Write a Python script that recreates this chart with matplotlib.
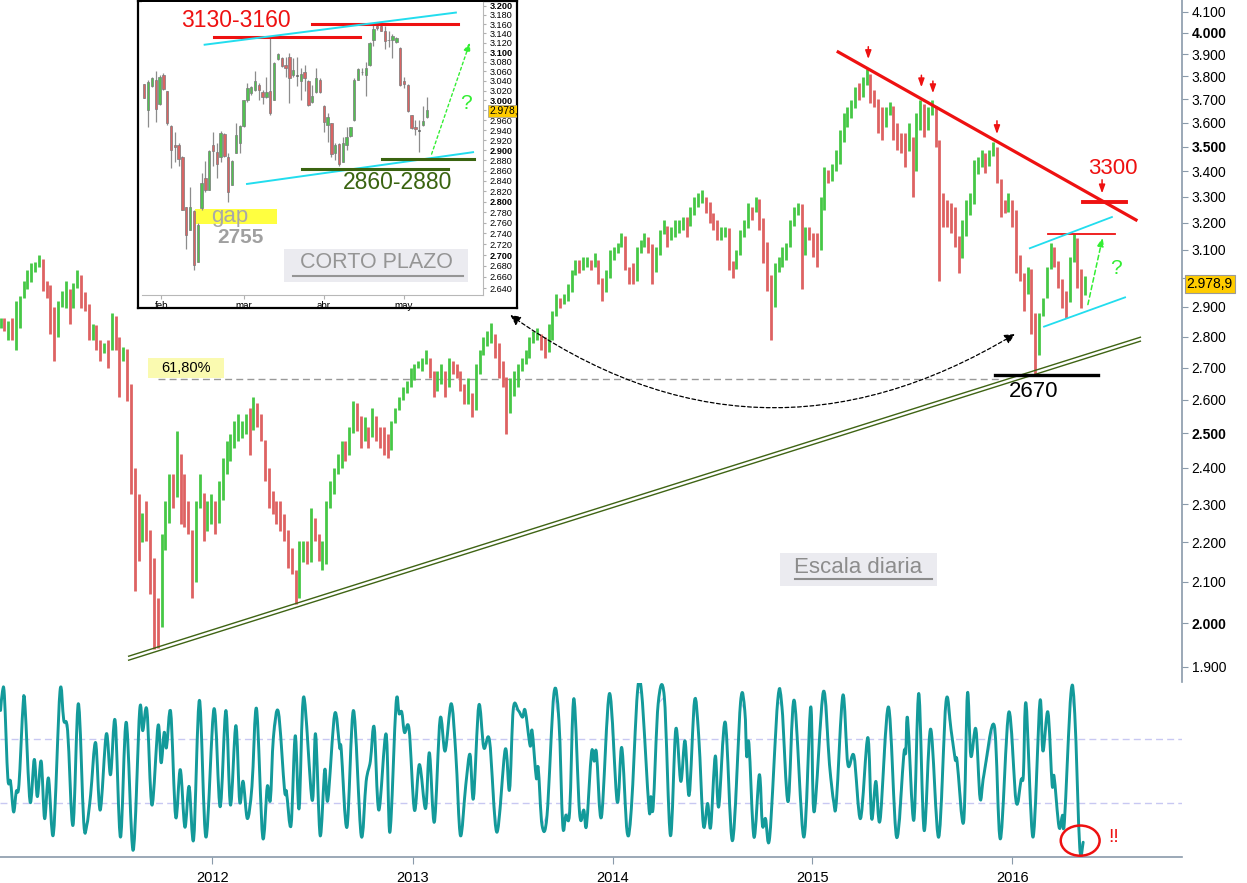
import numpy as np
import pandas as pd
import matplotlib
matplotlib.use('Agg')
import matplotlib.pyplot as plt
import matplotlib.dates as mdates
import matplotlib.ticker as mticker
from matplotlib.patches import Rectangle, Ellipse, FancyArrowPatch, PathPatch
from matplotlib.path import Path
from matplotlib.transforms import blended_transform_factory

plt.rcParams['font.family'] = ['Liberation Sans', 'DejaVu Sans']

# ── data: weekly bars (Friday) of the index, Dec 2010 → May 2016 ──
week_start = '2010-12-10'
weekly_close = [
    2855, 2830, 2830, 2800, 2830, 2930, 2960, 2985, 3020, 3040,
    3068, 2990, 2975, 2900, 2800, 2900, 2945, 2960, 2930, 2965,
    3010, 2950, 2910, 2830, 2840, 2790, 2770, 2780, 2755, 2870,
    2800, 2720, 2760, 2650, 2400, 2250, 2200, 2240, 2230, 2110,
    2060, 1990, 2180, 2250, 2350, 2320, 2440, 2300, 2290, 2230,
    2100, 2300, 2330, 2240, 2260, 2280, 2250, 2310, 2390, 2420,
    2470, 2480, 2500, 2510, 2530, 2510, 2590, 2540, 2480, 2400,
    2330, 2300, 2290, 2270, 2230, 2160, 2130, 2060, 2150, 2170,
    2150, 2250, 2220, 2180, 2180, 2290, 2350, 2400, 2440, 2460,
    2450, 2500, 2590, 2550, 2490, 2510, 2490, 2550, 2510, 2500,
    2470, 2450, 2530, 2570, 2600, 2620, 2640, 2660, 2700, 2715,
    2715, 2730, 2690, 2630, 2650, 2680, 2640, 2710, 2705, 2680,
    2640, 2600, 2620, 2570, 2680, 2740, 2770, 2800, 2810, 2780,
    2720, 2670, 2560, 2610, 2640, 2690, 2710, 2730, 2780, 2800,
    2810, 2780, 2750, 2790, 2870, 2930, 2910, 2925, 2950, 3010,
    3040, 3035, 3045, 3050, 3040, 3065, 3000, 2950, 3000, 3070,
    3090, 3110, 3150, 3040, 3010, 2990, 3090, 3110, 3140, 3120,
    3020, 3080, 3160, 3190, 3150, 3170, 3185, 3200, 3200, 3190,
    3230, 3260, 3290, 3300, 3280, 3230, 3210, 3170, 3170, 3180,
    3060, 3030, 3080, 3150, 3180, 3260, 3240, 3290, 3220, 3130,
    3010, 2900, 3020, 3060, 3090, 3110, 3190, 3230, 3270, 3080,
    3170, 3160, 3130, 3100, 3250, 3370, 3360, 3400, 3430, 3520,
    3590, 3620, 3660, 3720, 3710, 3760, 3810, 3710, 3700, 3620,
    3600, 3630, 3670, 3580, 3520, 3500, 3480, 3540, 3400, 3570,
    3680, 3600, 3630, 3670, 3510, 3280, 3230, 3200, 3180, 3150,
    3070, 3150, 3230, 3270, 3390, 3420, 3440, 3420, 3460, 3500,
    3370, 3250, 3240, 3260, 3250, 3080, 2990, 2950, 3030, 2880,
    2740, 2870, 2930, 3030, 3075, 3060, 2995, 2955, 2915, 3055,
    3145, 3030, 2940, 2979,
]
weekly_high = [
    2862, 2862, 2853, 2862, 2921, 2938, 2990, 3026, 3051, 3058,
    3080, 3026, 2990, 2897, 2810, 2921, 2955, 2990, 2955, 2983,
    3026, 2983, 2931, 2843, 2843, 2810, 2788, 2778, 2788, 2880,
    2830, 2755, 2765, 2690, 2443, 2248, 2327, 2275, 2309, 2185,
    2158, 2036, 2221, 2309, 2384, 2384, 2507, 2364, 2384, 2309,
    2133, 2309, 2384, 2290, 2309, 2327, 2309, 2364, 2429, 2478,
    2498, 2537, 2557, 2537, 2557, 2576, 2607, 2588, 2557, 2478,
    2384, 2336, 2309, 2309, 2274, 2221, 2185, 2118, 2203, 2203,
    2203, 2290, 2264, 2221, 2203, 2309, 2364, 2384, 2438, 2478,
    2478, 2517, 2597, 2576, 2517, 2547, 2517, 2576, 2537, 2517,
    2517, 2498, 2537, 2576, 2607, 2638, 2659, 2700, 2711, 2722,
    2732, 2755, 2711, 2668, 2690, 2711, 2690, 2732, 2722, 2711,
    2690, 2649, 2668, 2607, 2711, 2755, 2799, 2820, 2846, 2810,
    2755, 2711, 2638, 2668, 2690, 2711, 2732, 2755, 2799, 2820,
    2830, 2810, 2799, 2843, 2887, 2945, 2931, 2945, 2980, 3026,
    3062, 3062, 3073, 3073, 3062, 3087, 3026, 2990, 3026, 3098,
    3109, 3124, 3161, 3062, 3037, 3051, 3109, 3135, 3161, 3146,
    3087, 3109, 3173, 3211, 3173, 3184, 3211, 3211, 3222, 3222,
    3260, 3299, 3314, 3326, 3299, 3260, 3237, 3199, 3184, 3184,
    3098, 3051, 3098, 3173, 3211, 3276, 3260, 3299, 3249, 3146,
    3062, 2990, 3051, 3073, 3109, 3124, 3211, 3260, 3276, 3146,
    3184, 3184, 3161, 3161, 3299, 3415, 3404, 3430, 3486, 3568,
    3640, 3666, 3696, 3752, 3770, 3796, 3835, 3770, 3740, 3666,
    3666, 3666, 3687, 3623, 3597, 3555, 3555, 3597, 3497, 3640,
    3696, 3623, 3666, 3696, 3597, 3526, 3314, 3287, 3276, 3260,
    3109, 3211, 3287, 3314, 3445, 3458, 3486, 3474, 3486, 3518,
    3458, 3299, 3287, 3314, 3287, 3135, 3073, 3016, 3037, 2921,
    2745, 2877, 2931, 3037, 3124, 3109, 3037, 2955, 2945, 3073,
    3157, 3037, 2955, 3007,
]
weekly_low = [
    2830, 2820, 2788, 2788, 2755, 2887, 2938, 2975, 3016, 3026,
    3051, 2955, 2931, 2810, 2720, 2820, 2911, 2897, 2843, 2897,
    2990, 2897, 2887, 2788, 2788, 2755, 2722, 2745, 2700, 2830,
    2755, 2607, 2732, 2597, 2327, 2076, 2151, 2203, 2203, 2069,
    1940, 1943, 2118, 2203, 2327, 2290, 2384, 2248, 2238, 2221,
    2060, 2248, 2290, 2203, 2229, 2248, 2221, 2274, 2364, 2384,
    2429, 2458, 2478, 2487, 2498, 2438, 2557, 2517, 2478, 2364,
    2290, 2274, 2248, 2229, 2203, 2133, 2118, 2045, 2118, 2151,
    2143, 2221, 2203, 2151, 2130, 2143, 2290, 2327, 2384, 2401,
    2420, 2438, 2547, 2507, 2458, 2478, 2458, 2517, 2478, 2458,
    2438, 2429, 2498, 2547, 2576, 2607, 2628, 2659, 2690, 2700,
    2690, 2711, 2668, 2607, 2628, 2668, 2607, 2690, 2680, 2668,
    2628, 2588, 2588, 2547, 2668, 2711, 2755, 2778, 2778, 2732,
    2668, 2638, 2498, 2588, 2628, 2668, 2690, 2711, 2755, 2778,
    2788, 2755, 2732, 2778, 2843, 2911, 2897, 2911, 2921, 2990,
    3026, 3016, 3026, 3037, 3026, 3051, 2980, 2921, 2965, 3037,
    3062, 3087, 3109, 3026, 2980, 2980, 3062, 3087, 3109, 3087,
    2980, 3051, 3124, 3161, 3109, 3135, 3146, 3161, 3173, 3146,
    3222, 3249, 3276, 3276, 3237, 3199, 3173, 3135, 3135, 3146,
    3026, 3001, 3051, 3124, 3146, 3237, 3211, 3249, 3173, 3051,
    2955, 2788, 3001, 3026, 3037, 3062, 3146, 3199, 3237, 2960,
    3087, 3135, 3073, 3037, 3211, 3338, 3353, 3376, 3404, 3497,
    3555, 3581, 3623, 3683, 3696, 3740, 3796, 3683, 3666, 3555,
    3526, 3581, 3653, 3526, 3486, 3474, 3415, 3486, 3299, 3555,
    3653, 3539, 3568, 3640, 3497, 2990, 3184, 3184, 3161, 3109,
    3016, 3087, 3184, 3260, 3365, 3404, 3415, 3392, 3433, 3474,
    3353, 3222, 3237, 3249, 3184, 3016, 2990, 2887, 2945, 2810,
    2680, 2810, 2877, 2990, 3037, 3037, 2965, 2897, 2863, 3016,
    3109, 2965, 2897, 2960,
]
last_price = 2978.9

# short term daily candles (late Jan 2016 → May 2016)
cp_open = [3034, 2981, 3029, 3041, 2993, 3052, 3019, 2948, 2911, 2911,
           2887, 2789, 2746, 2783, 2688, 2787, 2845, 2823, 2911, 2896,
           2887, 2932, 2887, 2832, 2894, 2914, 2948, 3001, 3016, 3022,
           3032, 3017, 3007, 3020, 3001, 3085, 3087, 3073, 3091, 3053,
           3053, 3039, 3058, 3039, 2996, 3017, 3042, 2988, 2951, 2954,
           2895, 2912, 2877, 2911, 2929, 2961, 3042, 3058, 3053, 3074,
           3126, 3157, 3156, 3145, 3127, 3127, 3122, 3110, 3040, 3031,
           2970, 2947, 2941, 2951, 2966]
cp_close = [3004, 3037, 3047, 2982, 3048, 3024, 2954, 2900, 2907, 2882,
            2785, 2737, 2789, 2682, 2756, 2835, 2822, 2899, 2898, 2873,
            2935, 2888, 2819, 2878, 2931, 2948, 3000, 3025, 3027, 3039,
            3022, 3007, 3018, 2974, 3078, 3096, 3071, 3066, 3046, 3063,
            3051, 3055, 3046, 2990, 3008, 3046, 3018, 2957, 2966, 2893,
            2911, 2873, 2914, 2926, 2946, 3042, 3064, 3058, 3066, 3119,
            3149, 3152, 3146, 3123, 3125, 3135, 3130, 3032, 3034, 2978,
            2944, 2942, 2939, 2958, 2981]
cp_high = [3034, 3042, 3049, 3060, 3052, 3056, 3020, 2950, 2937, 2914,
           2888, 2790, 2829, 2784, 2759, 2855, 2878, 2901, 2937, 2914,
           2939, 2935, 2894, 2881, 2954, 2950, 3001, 3035, 3030, 3060,
           3035, 3022, 3049, 3130, 3080, 3099, 3091, 3091, 3098, 3087,
           3091, 3066, 3073, 3042, 3032, 3066, 3046, 2991, 2974, 2955,
           2914, 2914, 2927, 2947, 2947, 3046, 3066, 3066, 3080, 3122,
           3158, 3162, 3158, 3155, 3145, 3139, 3132, 3112, 3049, 3033,
           2971, 2961, 2961, 2988, 3007]
cp_low = [3004, 2947, 3027, 2957, 2991, 3022, 2951, 2864, 2877, 2868,
          2784, 2712, 2746, 2673, 2687, 2784, 2819, 2822, 2868, 2845,
          2877, 2887, 2800, 2832, 2894, 2894, 2947, 2997, 3012, 3019,
          3001, 2992, 3005, 2971, 3000, 3084, 3070, 3049, 2995, 3049,
          3029, 3001, 3019, 2988, 2995, 3015, 3015, 2937, 2917, 2887,
          2881, 2868, 2876, 2901, 2927, 2959, 3041, 3053, 3008, 3072,
          3113, 3148, 3145, 3106, 3112, 3087, 3119, 3030, 3025, 2976,
          2942, 2931, 2896, 2949, 2964]
cp_month_pos = [4.45, 26.0, 47.0, 67.9]
cp_month_lbl = ['feb', 'mar', 'abr', 'may']

# oscillator (turning points, position in weeks from week_start)
osc_wk = [0.0, 0.5, 1.0, 1.9, 2.6, 3.4, 4.1, 4.8, 5.9, 6.4,
          7.7, 8.8, 9.6, 10.6, 11.5, 12.5, 13.8, 15.5, 16.5, 17.5,
          18.9, 20.3, 21.7, 22.5, 23.5, 24.8, 26.0, 27.6, 28.7, 29.9,
          31.3, 32.8, 34.6, 36.3, 37.1, 38.2, 39.5, 41.1, 41.9, 42.7,
          43.3, 44.4, 45.7, 46.9, 48.1, 49.2, 50.4, 51.9, 53.6, 55.7,
          57.3, 58.8, 60.0, 61.4, 62.4, 63.3, 64.4, 65.6, 66.8, 68.4,
          69.6, 70.4, 71.2, 72.5, 74.1, 74.6, 75.8, 76.9, 77.9, 79.1,
          81.3, 82.2, 83.4, 84.6, 85.4, 87.2, 88.5, 88.9, 90.4, 92.1,
          94.1, 95.4, 96.5, 97.5, 98.7, 100.6, 101.6, 103.2, 104.0, 104.7,
          105.4, 106.6, 108.0, 109.3, 110.9, 111.9, 113.2, 114.7, 116.0, 117.6,
          118.8, 120.0, 121.4, 122.5, 123.4, 124.8, 126.1, 127.6, 129.5, 131.7,
          132.8, 133.8, 135.1, 136.2, 136.9, 138.2, 138.7, 139.8, 140.3, 141.3,
          142.6, 144.4, 145.7, 146.7, 147.5, 148.5, 149.6, 151.1, 152.2, 152.9,
          154.2, 154.9, 155.5, 156.8, 158.9, 160.9,
          162.1, 163.5, 164.6, 166.2, 167.3, 169.2, 169.7, 170.3, 171.6, 173.2,
          174.8, 176.2, 177.5, 178.6, 179.7, 181.1, 182.2, 183.4, 184.5, 185.3,
          186.5, 187.4, 189.1, 191.0, 193.1, 194.2, 194.7, 195.3, 196.6, 198.0,
          198.8, 199.6, 200.7, 202.8, 203.9, 205.5, 207.1, 209.6, 211.4, 212.3,
          214.7, 216.3, 217.4, 218.1, 219.8, 221.1, 222.7, 224.4, 226.3, 227.3,
          228.4, 229.5, 231.7, 233.8, 235.7, 236.2, 236.7, 238.3, 239.6, 241.0,
          242.7, 244.8, 246.7, 248.0, 249.1, 249.6, 251.3, 252.3, 253.2, 254.5,
          255.6, 256.6, 259.3, 260.9, 263.1, 265.0, 266.3, 266.9, 267.6, 269.4,
          271.2, 272.0, 273.3, 274.4, 274.9, 276.2, 277.1, 277.6, 279.3, 280.3,
          281.6, 282.5]
osc_val = [88, 100, 97.6, 45.5, 43.4, 24.2, 37, 41.2, 92.3, 90.2,
           30.6, 57.2, 33.8, 56.1, 20.0, 45.5, 10.4, 99.8, 81.7, 75.3,
           15.7, 92.3, 17.8, 15.7, 34.8, 67.8, 25.3, 73.2, 47.6, 81.7,
           8.3, 80.6, 0, 88.0, 75.3, 88.0, 28.5, 78.5, 55.1, 74.2,
           64.6, 87.0, 21.0, 50.8, 14.6, 40.2, 7.2, 94.4, 8.3, 89.1,
           27.4, 88.0, 28.5, 78.5, 30.6, 43.4, 20.0, 40.2, 89.1, 8.3,
           40.2, 31.6, 71.0, 87.0, 38.0, 37.0, 15.7, 72.1, 26.3, 96.6,
           31.6, 73.2, 9.3, 50.8, 31.6, 85.9, 64.6, 63.6, 14.6, 88.0,
           9.3, 43.4, 56.1, 77.4, 25.3, 73.2, 11.4, 92.3, 85.9, 87.0,
           74.2, 76.3, 25.3, 54.0, 26.3, 61.4, 17.8, 82.7, 62.5, 92.3,
           60.4, 9.3, 41.2, 60.4, 32.7, 91.2, 64.6, 68.9, 11.4, 63.6,
           38.0, 89.1, 88.0, 83.8, 88.0, 65.7, 75.3, 45.5, 51.9, 15.7,
           22.1, 98.7, 81.7, 15.7, 22.1, 24.2, 95.5, 23.1, 25.3, 15.7,
           61.4, 56.1, 61.4, 21.0, 98.7, 30.6,
           64.6, 11.4, 26.3, 99.8, 98.7, 26.3, 33.8, 27.4, 92.3, 96.6,
           9.3, 76.3, 43.4, 68.9, 34.8, 94.4, 71.0, 15.7, 29.5, 14.6,
           59.3, 27.4, 80.6, 6.1, 93.4, 88.0, 59.3, 66.8, 8.3, 47.6,
           15.7, 20.0, 8.3, 94.4, 90.2, 30.6, 94.4, 8.3, 90.2, 24.2,
           99.8, 54.0, 30.6, 30.6, 97.6, 54.0, 59.3, 20.0, 71.0, 20.0,
           43.4, 18.9, 90.2, 8.3, 60.4, 61.4, 82.7, 18.9, 98.7, 12.5,
           76.3, 8.3, 93.4, 76.3, 57.2, 56.1, 17.8, 98.7, 59.3, 76.3,
           32.7, 47.6, 78.5, 7.2, 87.0, 30.6, 44.4, 47.6, 92.3, 8.3,
           93.4, 62.5, 87.0, 41.2, 46.6, 14.6, 22.1, 17.8, 98.7, 85.9,
           1.9, 5.1]

years = ['2012', '2013', '2014', '2015', '2016']

GREEN = '#46c846'
RED = '#de6262'
AXCOL = '#8a9aaa'

W, H = 1247, 883
fig = plt.figure(figsize=(W / 100, H / 100), dpi=100)


def rect(x0, y0, x1, y1):
    # pixel box -> figure fraction [left, bottom, width, height]
    return [x0 / W, 1 - y1 / H, (x1 - x0) / W, (y1 - y0) / H]


def d(s):
    return mdates.date2num(pd.Timestamp(s))


def thousands(v, pos=None):
    return f"{int(round(v)):,}".replace(',', '.')


def smooth_path(x, y):
    # Catmull-Rom through the points, as cubic Bezier segments
    p = np.column_stack([x, y])
    pe = np.vstack([p[0], p, p[-1]])
    verts = [p[0]]
    codes = [Path.MOVETO]
    for i in range(len(p) - 1):
        p0, p1, p2, p3 = pe[i], pe[i + 1], pe[i + 2], pe[i + 3]
        verts += [p1 + (p2 - p0) / 6, p2 - (p3 - p1) / 6, p2]
        codes += [Path.CURVE4] * 3
    return Path(np.array(verts), codes)


# ── main panel ────────────────────────────────────────────────
ax = fig.add_axes(rect(0, 0, 1182, 682))
wk = pd.date_range(week_start, periods=len(weekly_close), freq='W-FRI')
c = np.array(weekly_close, float)
prev = np.r_[c[0], c[:-1]]
lo = np.minimum.reduce([np.array(weekly_low, float), prev, c])
hi = np.maximum.reduce([np.array(weekly_high, float), prev, c])
cols = np.where(c >= prev, GREEN, RED)
ax.vlines(wk, lo, hi, colors=cols, lw=2.0, zorder=3)

ax.set_yscale('log')
ax.set_ylim(1866.6, 4157)
ax.set_xlim(d('2010-12-09'), d('2016-11-06'))
yticks = np.arange(1900, 4101, 100)
ax.yaxis.set_major_locator(mticker.FixedLocator(yticks))
ax.yaxis.set_minor_locator(mticker.NullLocator())
# the 3.000 label sits under the last-price tag
ax.yaxis.set_major_formatter(mticker.FuncFormatter(lambda v, p: '' if round(v) == 3000 else thousands(v)))
ax.yaxis.tick_right()
ax.tick_params(axis='y', direction='out', length=4, color=AXCOL, labelsize=10, pad=3)
for lab, v in zip(ax.get_yticklabels(), yticks):
    if v % 500 == 0:
        lab.set_fontweight('bold')
ax.set_xticks([])
for s in ['left', 'top', 'bottom']:
    ax.spines[s].set_visible(False)
ax.spines['right'].set_color(AXCOL)
ax.spines['right'].set_linewidth(1.2)

# long term support (double line)
ax.plot([d('2011-08-01'), d('2016-08-22')], [1915, 2785], color='#3f6414', lw=1.0, zorder=4)
ax.plot([d('2011-08-01'), d('2016-08-22')], [1924, 2798], color='#3f6414', lw=1.0, zorder=4)

# 61.8% retracement
ax.plot([d('2011-09-23'), d('2015-12-10')], [2665, 2665], color='#999999', lw=1, ls=(0, (5, 3)), zorder=2)
ax.add_patch(Rectangle((d('2011-09-06'), 2668), 139, 64, fc='#fafab0', ec='none', zorder=5))
ax.text(d('2011-11-14'), 2699, '61,80%', fontsize=10.5, ha='center', va='center', zorder=6)

# falling resistance and touch arrows
ax.plot([d('2015-02-17'), d('2016-08-14')], [3911, 3211], color='#ee1111', lw=2.3, zorder=5)
for dt, p0, p1 in [('2015-04-13', 3948, 3866), ('2015-07-19', 3818, 3740),
                   ('2015-08-09', 3792, 3714), ('2015-12-04', 3619, 3540),
                   ('2016-06-13', 3377, 3302)]:
    ax.annotate('', xy=(d(dt), p1), xytext=(d(dt), p0),
                arrowprops=dict(arrowstyle='-|>,head_length=0.5,head_width=0.18', color='#ee1111', lw=1.1),
                zorder=6)
ax.text(d('2016-07-03'), 3411, '3300', color='#ee1111', fontsize=16, ha='center', va='center')
ax.plot([d('2016-05-10'), d('2016-07-27')], [3278, 3278], color='#ee1111', lw=2.8, zorder=5)
ax.plot([d('2016-03-07'), d('2016-07-07')], [3159, 3159], color='#ee1111', lw=1.3, zorder=5)

# short term channel
ax.plot([d('2016-02-02'), d('2016-07-01')], [3106, 3222], color='#22ddee', lw=1.3, zorder=5)
ax.plot([d('2016-02-28'), d('2016-07-25')], [2833, 2932], color='#22ddee', lw=1.3, zorder=5)
ax.annotate('', xy=(d('2016-06-15'), 3155), xytext=(d('2016-05-17'), 2898),
            arrowprops=dict(arrowstyle='-|>,head_length=0.5,head_width=0.2', color='#33ee33', lw=1.1,
                            ls=(0, (3, 2))), zorder=6)
ax.text(d('2016-07-09'), 3033, '?', color='#33ee33', fontsize=15, ha='center', va='center')

# 2670 support
ax.plot([d('2015-11-30'), d('2016-06-06')], [2676, 2676], color='black', lw=2.4, zorder=5)
ax.text(d('2016-02-09'), 2625, '2670', color='black', fontsize=16, ha='center', va='center')

# dashed arc linking the short term chart with the current zone
ax.add_patch(FancyArrowPatch((d('2013-06-24'), 2877), (d('2016-01-10'), 2813),
                             connectionstyle='arc3,rad=0.33',
                             arrowstyle='<|-|>,head_length=6,head_width=3',
                             color='black', lw=0.9, ls=(0, (3, 2)), zorder=6))

# label box
ax.add_patch(Rectangle((d('2014-11-03'), 2089), 287, 83, fc='#ebebf0', ec='none', zorder=5))
ax.text(d('2015-03-26'), 2135, 'Escala diaria', color='#8c8c8c', fontsize=16, ha='center', va='center', zorder=6)
ax.plot([d('2014-11-30'), d('2015-08-08')], [2106, 2106], color='#8c8c8c', lw=1.5, zorder=6)

ax.text(1.004, last_price, '2.978,9', transform=blended_transform_factory(ax.transAxes, ax.transData),
        fontsize=10, ha='left', va='center', zorder=10,
        bbox=dict(boxstyle='square,pad=0.15', fc='#ffcc00', ec='#9a9a9a', lw=0.8))

# ── oscillator panel ──────────────────────────────────────────
ax2 = fig.add_axes(rect(0, 683, 1182, 857))
osc_dates = pd.Timestamp(week_start) + pd.to_timedelta(np.array(osc_wk) * 7, unit='D')
osc_x = mdates.date2num(osc_dates)
ax2.axhline(70, color='#c8c8f2', lw=1, ls=(0, (5, 3)))
ax2.axhline(30, color='#c8c8f2', lw=1, ls=(0, (5, 3)))
ax2.plot(osc_x, osc_val, color='#cacaf6', lw=0.9, zorder=2)
ax2.add_patch(PathPatch(smooth_path(osc_x, osc_val), fill=False, ec='#139a9a', lw=2.1,
                        joinstyle='round', capstyle='round', zorder=3))
ax2.set_xlim(ax.get_xlim())
ax2.set_ylim(-4.2, 105.3)
ax2.set_yticks([])
ax2.set_xticks([d(y + '-01-01') for y in years])
ax2.set_xticklabels(years)
ax2.tick_params(axis='x', direction='out', length=5, color=AXCOL, labelsize=10.5, pad=5)
for s in ['left', 'top', 'right']:
    ax2.spines[s].set_visible(False)
ax2.spines['bottom'].set_color(AXCOL)
ax2.spines['bottom'].set_linewidth(1.2)
ax2.add_patch(Ellipse((d('2016-05-04'), 6.1), width=71, height=19, fill=False, ec='#ee1111', lw=1.8, zorder=5))
ax2.text(d('2016-07-04'), 8, '!!', color='#ee1111', fontsize=14, ha='center', va='center')

# ── inset: short term chart ───────────────────────────────────
axb = fig.add_axes(rect(138, 0.7, 517, 308))
axb.set_xticks([])
axb.set_yticks([])
for s in axb.spines.values():
    s.set_linewidth(1.6)
    s.set_color('black')

axi = fig.add_axes(rect(142, 2, 483, 295))
n = len(cp_close)
xi = np.arange(n)
o = np.array(cp_open, float)
cl = np.array(cp_close, float)
axi.vlines(xi, cp_low, cp_high, colors='#8c8c8c', lw=0.9, zorder=2)
body_lo = np.minimum(o, cl)
body_hi = np.maximum(o, cl)
bcol = np.where(np.abs(cl - o) < 3, 'black', np.where(cl > o, '#52c152', '#d96464'))
axi.bar(xi, np.maximum(body_hi - body_lo, 1.5), bottom=body_lo, width=0.62,
        color=bcol, edgecolor='#7a7a7a', linewidth=0.5, zorder=3)
axi.set_yscale('log')
axi.set_ylim(2627.5, 3208)
axi.set_xlim(-0.6, 88.7)
yt = np.arange(2640, 3201, 20)
axi.yaxis.set_major_locator(mticker.FixedLocator(yt))
axi.yaxis.set_minor_locator(mticker.NullLocator())
# the 2.980 label sits under the last-price tag
axi.yaxis.set_major_formatter(mticker.FuncFormatter(lambda v, p: '' if round(v) == 2980 else thousands(v)))
axi.yaxis.tick_right()
axi.tick_params(axis='y', direction='out', length=2.5, color='#b0b0b0', labelsize=6.6, pad=2)
for lab, v in zip(axi.get_yticklabels(), yt):
    if v % 100 == 0:
        lab.set_fontweight('bold')
axi.set_xticks(cp_month_pos)
axi.set_xticklabels(cp_month_lbl)
axi.tick_params(axis='x', direction='out', length=3, color='#b0b0b0', labelsize=7, pad=1)
axi.spines['left'].set_visible(False)
axi.spines['top'].set_visible(False)
axi.spines['right'].set_color('#b8b8b8')
axi.spines['bottom'].set_color('#b8b8b8')

axi.plot([18.2, 56.5], [3133, 3133], color='#ee1111', lw=2.2, zorder=4)
axi.plot([43.9, 82.1], [3161, 3161], color='#ee1111', lw=2.2, zorder=4)
axi.plot([15.8, 81.6], [3116, 3185], color='#22ddee', lw=1.4, zorder=4)
axi.plot([26.9, 86.1], [2834, 2896], color='#22ddee', lw=1.4, zorder=4)
axi.plot([41.3, 79.5], [2863, 2863], color='#3a6410', lw=2.2, zorder=4)
axi.plot([62.2, 86.3], [2883, 2883], color='#3a6410', lw=2.2, zorder=4)
axi.annotate('', xy=(85.5, 3126), xytext=(75.0, 2887),
             arrowprops=dict(arrowstyle='-|>,head_length=0.5,head_width=0.2', color='#33ee33', lw=1.0,
                             ls=(0, (2, 2))), zorder=6)
axi.text(84.2, 2993, '?', color='#33ee33', fontsize=15, ha='center', va='center')
axi.text(24.1, 3167, '3130-3160', color='#ee1111', fontsize=16.5, ha='center', va='center')
axi.text(66.4, 2836, '2860-2880', color='#3a6410', fontsize=16.5, ha='center', va='center')
axi.add_patch(Rectangle((13.3, 2758), 21.4, 28, fc='#ffff40', ec='none', zorder=1))
axi.text(22.5, 2772, 'gap', color='#a8a8a8', fontsize=16, ha='center', va='center', zorder=5)
axi.text(25.3, 2732, '2755', color='#a0a0a0', fontsize=15, fontweight='bold', ha='center', va='center', zorder=5)
axi.add_patch(Rectangle((36.6, 2651), 48.1, 60, fc='#ebebf0', ec='none', zorder=1))
axi.text(60.7, 2686, 'CORTO PLAZO', color='#959595', fontsize=15.5, ha='center', va='center', zorder=5)
axi.plot([39, 83.4], [2662, 2662], color='#959595', lw=1.5, zorder=5)
tag = axi.text(1.018, last_price, '2.978,9', transform=blended_transform_factory(axi.transAxes, axi.transData),
               fontsize=7.4, ha='left', va='center', zorder=10,
               bbox=dict(boxstyle='square,pad=0.1', fc='#ffcc00', ec='#9a9a9a', lw=0.5))
tag.set_clip_box(axb.bbox)
tag.set_clip_on(True)

fig.savefig('out.png', dpi=100)
